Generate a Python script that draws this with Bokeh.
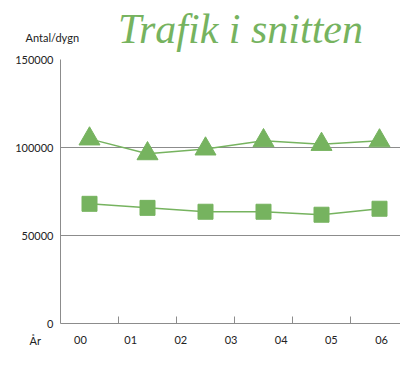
from bokeh.plotting import figure
from bokeh.models import (LinearAxis, Range1d, FixedTicker, Label, Legend, LegendItem)
from bokeh.embed import file_html
from bokeh.resources import INLINE

years = ["00", "01", "02", "03", "04", "05", "06"]
x_pos = [0.5, 1.5, 2.5, 3.5, 4.5, 5.5]
tillfart = [104900, 96500, 99200, 103900, 101800, 103800]
brosnitt = [68000, 65700, 63500, 63500, 61800, 65200]
y_ticks = [0, 50000, 100000, 150000]
boundaries = [1, 2, 3, 4, 5]
label_pos = [(20 + 50.17 * i) / 58 for i in range(len(years))]

GREEN = "#76b35f"
GRAY = "#8c8c8c"
FONT = "Lato"
TXT = "#222222"

p = figure(frame_width=340, frame_height=264, output_backend="svg", toolbar_location=None,
           x_range=Range1d(0, 340 / 58), y_range=Range1d(0, 150000),
           min_border_left=60, min_border_top=56, min_border_right=0, min_border_bottom=0,
           x_axis_location=None, y_axis_location=None)
p.outline_line_color = None
p.background_fill_color = "white"
p.border_fill_color = "white"
p.xgrid.visible = False

yax = LinearAxis(ticker=FixedTicker(ticks=y_ticks))
yax.axis_line_color = GRAY
yax.major_tick_line_color = None
yax.major_tick_in = 0
yax.major_tick_out = 0
yax.minor_tick_line_color = None
yax.minor_tick_in = 0
yax.minor_tick_out = 0
yax.major_label_text_font = FONT
yax.major_label_text_font_size = "11px"
yax.major_label_text_color = TXT
yax.major_label_standoff = 7
yax.formatter.use_scientific = False
p.add_layout(yax, "left")
p.ygrid.ticker = FixedTicker(ticks=y_ticks)
p.ygrid.grid_line_color = GRAY
p.ygrid.grid_line_width = 1

xax = LinearAxis(ticker=FixedTicker(ticks=label_pos, minor_ticks=boundaries),
                 major_label_overrides={lp: s for lp, s in zip(label_pos, years)})
xax.axis_line_color = GRAY
xax.major_tick_line_color = None
xax.major_tick_in = 0
xax.major_tick_out = 0
xax.minor_tick_line_color = GRAY
xax.minor_tick_in = 7
xax.minor_tick_out = 0
xax.major_label_text_font = FONT
xax.major_label_text_font_size = "11px"
xax.major_label_text_color = TXT
xax.major_label_standoff = 12
p.add_layout(xax, "below")

p.line(x_pos, tillfart, line_color=GREEN, line_width=1.5)
r1 = p.scatter(x_pos, tillfart, marker="triangle", size=21, fill_color=GREEN, line_color=GREEN)
p.line(x_pos, brosnitt, line_color=GREEN, line_width=1.5)
r2 = p.scatter(x_pos, brosnitt, marker="square", size=15, fill_color=GREEN, line_color=GREEN)

legend = Legend(items=[LegendItem(label="Biltrafik i tillfartssnittet", renderers=[r1]),
                       LegendItem(label="Biltrafik i brosnittet", renderers=[r2])],
                orientation="horizontal", location=(26, 0))
legend.label_text_font = FONT
legend.label_text_font_size = "11px"
legend.label_text_color = TXT
legend.glyph_width = 40
legend.glyph_height = 26
legend.label_standoff = -6
legend.spacing = 0
legend.padding = 0
legend.margin = 0
legend.border_line_color = None
legend.background_fill_alpha = 0
p.add_layout(legend, "below")

p.add_layout(Label(x=-35, y=22, x_units="screen", y_units="screen",
                   text="Antal/dygn", text_font=FONT, text_font_size="11px",
                   text_color=TXT, text_align="left", text_baseline="middle"), "above")
p.add_layout(Label(x=180, y=-5, x_units="screen", y_units="screen",
                   text="Trafik i snitten", text_font="Liberation Serif",
                   text_font_style="italic", text_font_size="42px", text_color=GREEN,
                   text_align="center", text_baseline="bottom"), "above")
p.add_layout(Label(x=28, y=-17, x_units="screen", y_units="screen",
                   text="År", text_font=FONT, text_font_size="11px",
                   text_color=TXT, text_align="left", text_baseline="middle"), "left")

open("out.html", "w").write(file_html(p, INLINE))
